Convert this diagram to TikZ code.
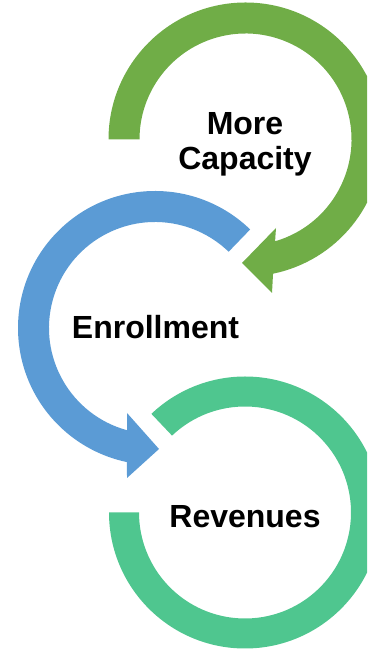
\documentclass[tikz,border=0pt]{standalone}
\usepackage{fontspec}
\setmainfont{Liberation Sans}
\usetikzlibrary{calc}

\definecolor{capgreen}{HTML}{70AD47}
\definecolor{enrblue}{HTML}{5B9BD5}
\definecolor{revteal}{HTML}{4FC68F}

\begin{document}
\begin{tikzpicture}[x=1pt, y=1pt, main/.style = {font=\fontsize{32}{35}\selectfont\bfseries, align=center}]
\clip (0,0) rectangle (367,650);
\coordinate (g) at (245.5,510.5);
\coordinate (b) at (155,322);
\coordinate (t) at (245,137.5);
% green ring, arrow at the bottom
\fill[capgreen] ($(g)+(180:137)$) arc[start angle=180, end angle=-78.4, radius=137]
  -- ($(g)+(26.5,-153.5)$) -- ($(g)+(-3.5,-123.5)$) -- ($(g)+(30.5,-88.5)$) -- ($(g)+(-73.8:106)$)
  arc[start angle=-73.8, end angle=180, radius=106] -- cycle;
% blue ring
\fill[enrblue] ($(b)+(46:137)$) arc[start angle=46, end angle=258.2, radius=137]
  -- ($(b)+(-28,-150)$) -- ($(b)+(4,-121)$) -- ($(b)+(-28,-85)$) -- ($(b)+(254.7:106)$)
  arc[start angle=254.7, end angle=46, radius=106] -- cycle;
% teal ring, no arrow
\fill[revteal] ($(t)+(180:136)$) arc[start angle=180, end angle=493.5, radius=136]
  -- ($(t)+(133.5:106)$) arc[start angle=493.5, end angle=180, radius=106] -- cycle;
\node[main] (cap) at (245,506) {More\\Capacity};
\node[main] (enr) at (155.5,322.5) {Enrollment};
\node[main] (rev) at (245,133) {Revenues};
\end{tikzpicture}
\end{document}
